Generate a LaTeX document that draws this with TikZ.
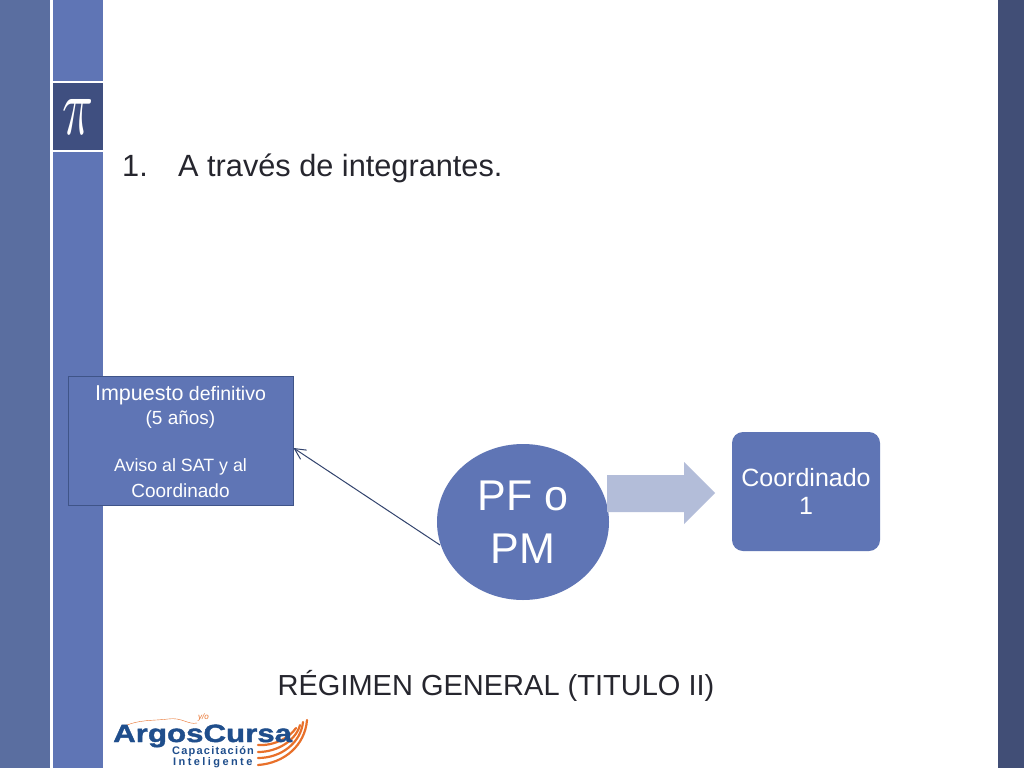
\documentclass[tikz,border=0pt]{standalone}
\usepackage{fontspec}
\setmainfont{Liberation Sans}
\usetikzlibrary{arrows.meta,shapes.geometric}
\definecolor{bandL}{HTML}{5A6EA0}
\definecolor{bandM}{HTML}{5F75B5}
\definecolor{bandD}{HTML}{414E76}
\definecolor{piBox}{HTML}{3F4F80}
\definecolor{edgeB}{HTML}{3F5488}
\definecolor{arrowL}{HTML}{B3BDD9}
\definecolor{logoB}{HTML}{1F4E8C}
\definecolor{logoO}{HTML}{E8702A}
\definecolor{inkT}{HTML}{26262E}
\tikzset{x=1pt,y=-1pt,
 whitetext/.style={text=white,align=center,inner sep=0pt},
 swoosh/.style={draw=logoO,line width=2.2pt,line cap=round}}
\begin{document}
\begin{tikzpicture}
\useasboundingbox (0,0) rectangle (1024,768);
\fill[white] (0,0) rectangle (1024,768);
\fill[bandL] (0,0) rectangle (50,768);
\fill[bandM] (53,0) rectangle (103,81);
\fill[bandM] (53,152) rectangle (103,768);
\fill[bandD] (998,0) rectangle (1024,768);
\node[fill=piBox,inner sep=0pt,minimum width=50pt,minimum height=67pt,text=white] (pibox) at (78,116.5) {\resizebox{31pt}{35pt}{$\pi$}};
\node[anchor=base west,inner sep=0pt,font=\fontsize{30.7}{34}\selectfont,text=inkT] (num) at (122,176) {1.};
\node[anchor=base west,inner sep=0pt,font=\fontsize{30.7}{34}\selectfont,text=inkT] (line) at (178,176) {A través de integrantes.};
\node[draw=edgeB,line width=1pt,fill=bandM,minimum width=225pt,minimum height=129pt,inner sep=0pt] (box) at (180.5,440.5) {};
\node[whitetext,font=\fontsize{19.5}{25}\selectfont] (boxt1) at (180.5,395) {{\fontsize{21.5}{25}\selectfont Impuesto} definitivo};
\node[whitetext,font=\fontsize{19}{25}\selectfont] (boxt2) at (180.5,420) {(5 años)};
\node[whitetext,font=\fontsize{17.8}{25}\selectfont] (boxt3) at (180.5,467) {Aviso al SAT y al};
\node[whitetext,font=\fontsize{19}{25}\selectfont] (boxt4) at (180.5,491) {Coordinado};
\node[ellipse,fill=bandM,minimum width=172pt,minimum height=156pt,inner sep=0pt] (pf) at (523,522) {};
\node[whitetext,font=\fontsize{43}{53}\selectfont] (pft) at (523,522) {PF o\\PM};
\fill[arrowL] (607,475) -- (684,475) -- (684,462) -- (715,493) -- (684,524) -- (684,512) -- (607,512) -- cycle;
\node[fill=bandM,rounded corners=11pt,minimum width=148pt,minimum height=119pt,inner sep=0pt] (coord) at (806,491.5) {};
\node[whitetext,font=\fontsize{25}{28}\selectfont] (coordt) at (806,491.5) {Coordinado\\1};
\coordinate (free) at (440,545);
\draw[draw=edgeB!80!black,line width=1pt,-{Straight Barb[length=11pt,width=11pt]}] (free) -- (box.east |- 0,448);
\node[inner sep=0pt,font=\fontsize{29}{34}\selectfont,text=inkT] (title) at (496,686) {RÉGIMEN GENERAL (TITULO II)};
% logo
\draw[logoO,line width=.4pt] (122,727) .. controls (140,719) and (152,721) .. (168,719) .. controls (182,717) and (188,725) .. (197,723);
\node[anchor=west,inner sep=0pt,font=\fontsize{8}{8}\selectfont\itshape,text=logoO] (logoyo) at (198,717) {y/o};
\draw[swoosh] (258,765) .. controls (285,763) and (305,745) .. (307,720);
\draw[swoosh] (258,758) .. controls (282,758) and (301,742) .. (303,722);
\draw[swoosh] (258,752) .. controls (278,752) and (296,740) .. (300,725);
\draw[swoosh] (258,745) .. controls (275,746) and (290,737) .. (296,728);
\node[anchor=base west,inner sep=0pt,font=\fontsize{25}{25}\selectfont\bfseries\addfontfeature{FakeBold=1.5,FakeStretch=1.25},text=logoB] (logo) at (113,742) {ArgosCursa};
\node[anchor=base west,inner sep=0pt,font=\fontsize{11}{11}\selectfont\bfseries\addfontfeature{LetterSpace=11},text=logoB] (logo2) at (172,754) {Capacitación};
\node[anchor=base west,inner sep=0pt,font=\fontsize{11}{11}\selectfont\bfseries\addfontfeature{LetterSpace=22},text=logoB] (logo3) at (173,765) {Inteligente};
\end{tikzpicture}
\end{document}
